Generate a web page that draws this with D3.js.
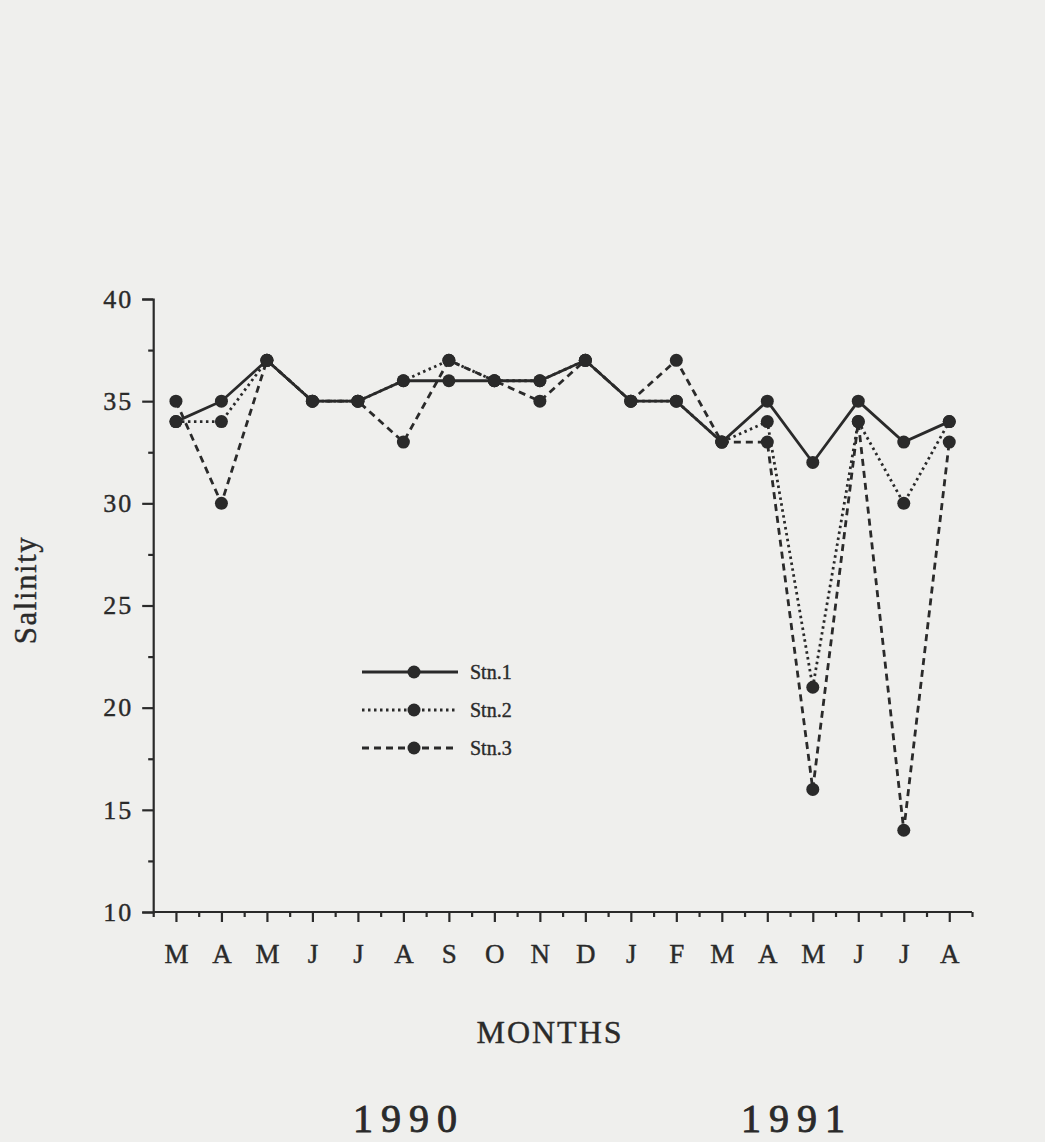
<!DOCTYPE html>
<html><head><meta charset="utf-8">
<script src="https://cdn.jsdelivr.net/npm/d3@7"></script>
<style>
body{margin:0;background:#efefed;}
svg{display:block;}
text{font-family:"Liberation Serif","Times New Roman",serif;fill:#2a2a2a;stroke:#2a2a2a;stroke-width:0.4px;}
</style></head>
<body>
<script>
const months = ["M","A","M","J","J","A","S","O","N","D","J","F","M","A","M","J","J","A"];
const stn1 = [34,35,37,35,35,36,36,36,36,37,35,35,33,35,32,35,33,34];
const stn2 = [34,34,37,35,35,36,37,36,36,37,35,35,33,34,21,34,30,34];
const stn3 = [35,30,37,35,35,33,37,36,35,37,35,37,33,33,16,34,14,33];
const yTicks = [10,15,20,25,30,35,40];
const seriesNames = ["Stn.1","Stn.2","Stn.3"];
const years = ["1990","1991"];

const W = 1045, H = 1142, ink = "#2a2a2a";
const svg = d3.select("body").append("svg").attr("width", W).attr("height", H);

const x = d3.scaleLinear().domain([-0.5, 17.5]).range([153.2, 972]);
const y = d3.scaleLinear().domain([10, 40]).range([912, 299]);

// Y axis
const gy = svg.append("g").attr("transform", `translate(${x(-0.5)},0)`)
  .call(d3.axisLeft(y).tickValues(yTicks).tickSize(11).tickPadding(9).tickFormat(d3.format("d")));
gy.select(".domain").attr("stroke", ink).attr("stroke-width", 2.2);
gy.selectAll(".tick line").attr("stroke", ink).attr("stroke-width", 2.2);
gy.selectAll(".tick text").attr("font-size", 26).attr("letter-spacing", 2).attr("fill", ink)
  .attr("font-family", "Liberation Serif, serif");
const gyMinor = svg.append("g").attr("transform", `translate(${x(-0.5)},0)`)
  .call(d3.axisLeft(y).tickValues(d3.range(12.5, 40, 5)).tickSize(5).tickFormat(""));
gyMinor.select(".domain").remove();
gyMinor.selectAll(".tick line").attr("stroke", ink).attr("stroke-width", 2.2);

// X axis
const gx = svg.append("g").attr("transform", `translate(0,${y(10)})`)
  .call(d3.axisBottom(x).tickValues(d3.range(0, 18)).tickSize(10).tickPadding(22).tickFormat(i => months[i]));
gx.select(".domain").attr("stroke", ink).attr("stroke-width", 2.2).attr("d", `M${x(-0.5)},0H${x(17.5)}`);
gx.selectAll(".tick line").attr("stroke", ink).attr("stroke-width", 2.2);
gx.selectAll(".tick text").attr("font-size", 27).attr("fill", ink).attr("font-family", "Liberation Serif, serif");
const gxMinor = svg.append("g").attr("transform", `translate(0,${y(10)})`)
  .call(d3.axisBottom(x).tickValues(d3.range(-0.5, 18, 1)).tickSize(5).tickFormat(""));
gxMinor.select(".domain").remove();
gxMinor.selectAll(".tick line").attr("stroke", ink).attr("stroke-width", 2.2);

// Series
const styles = [null, "2.5,3.5", "7,5"];
const data = [stn1, stn2, stn3];
const line = d3.line().x((d, i) => x(i)).y(d => y(d));
[2,1,0].forEach(k => {
  svg.append("path").datum(data[k]).attr("d", line)
    .attr("fill", "none").attr("stroke", ink).attr("stroke-width", 2.8)
    .attr("stroke-dasharray", styles[k]);
});
[2,1,0].forEach(k => {
  svg.append("g").selectAll("circle").data(data[k]).join("circle")
    .attr("cx", (d, i) => x(i)).attr("cy", d => y(d)).attr("r", 6.5).attr("fill", ink);
});

// Legend
const lg = svg.append("g");
seriesNames.forEach((name, k) => {
  const ly = 672 + k * 38;
  lg.append("line").attr("x1", 362).attr("x2", 458).attr("y1", ly).attr("y2", ly)
    .attr("stroke", ink).attr("stroke-width", 2.8).attr("stroke-dasharray", styles[k]);
  lg.append("circle").attr("cx", 414).attr("cy", ly).attr("r", 6.5).attr("fill", ink);
  lg.append("text").attr("x", 470).attr("y", ly + 7).attr("font-size", 20).text(name);
});

// Axis titles
svg.append("text").attr("transform", "translate(36,590) rotate(-90)")
  .attr("text-anchor", "middle").attr("font-size", 31).attr("letter-spacing", 1.5).text("Salinity");
svg.append("text").attr("x", 550).attr("y", 1043).attr("text-anchor", "middle")
  .attr("font-size", 32).attr("letter-spacing", 2).text("MONTHS");
svg.append("text").attr("x", 409).attr("y", 1132).attr("text-anchor", "middle")
  .attr("font-size", 40).attr("letter-spacing", 8).style("stroke-width", "0.9px").text(years[0]);
svg.append("text").attr("x", 797).attr("y", 1132).attr("text-anchor", "middle")
  .attr("font-size", 40).attr("letter-spacing", 8).style("stroke-width", "0.9px").text(years[1]);
</script>
</body></html>
